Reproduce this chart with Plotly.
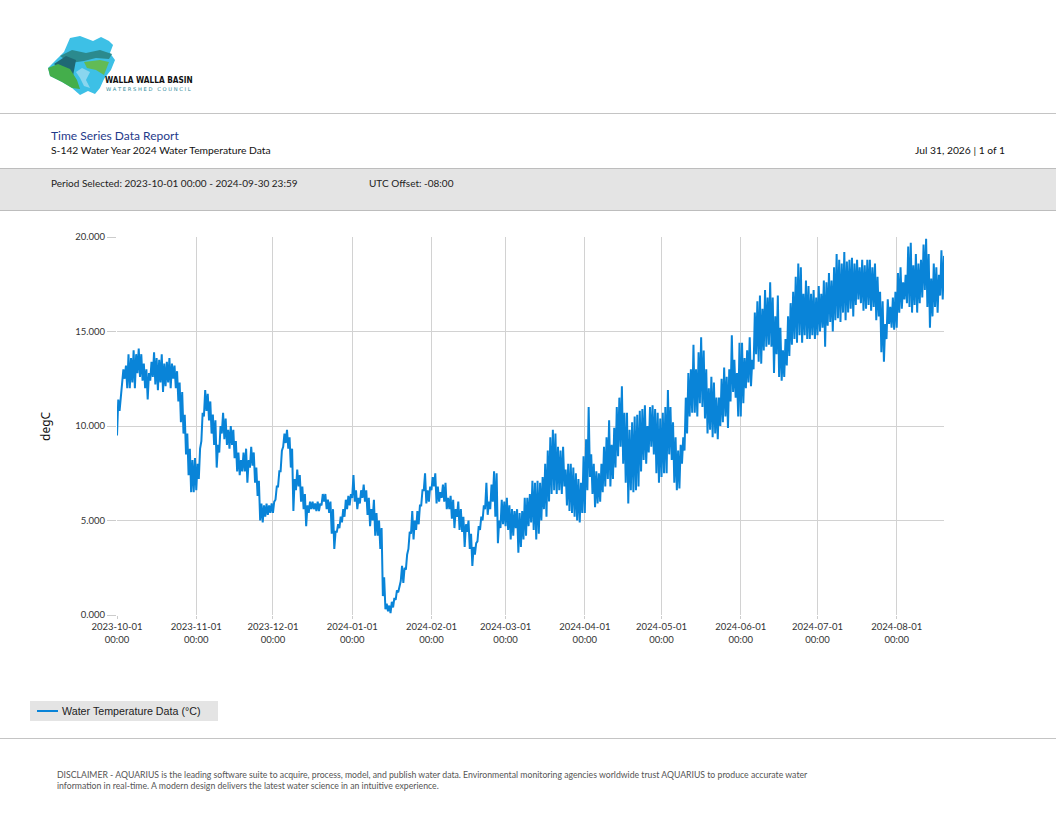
import pandas as pd
import plotly.graph_objects as go

# daily low / high water temperature (degC)
oct_low  = [9.5, 10.8, 12.2, 12.5, 12.0, 12.0, 12.3, 12.0, 12.8, 12.6, 12.4, 12.0, 11.4, 12.4, 12.6, 12.2, 11.9, 12.3, 11.8, 12.1, 12.3, 12.0, 12.5, 12.0, 11.3, 10.2, 9.6, 8.5, 7.4, 6.5, 6.5]
oct_high = [11.4, 11.6, 13.0, 13.2, 13.8, 13.6, 14.0, 13.8, 14.1, 13.8, 13.3, 13.0, 12.8, 13.4, 13.9, 13.6, 13.5, 13.8, 13.3, 13.4, 13.6, 13.3, 13.2, 12.9, 12.3, 11.8, 10.6, 9.6, 8.8, 8.2, 8.3]
nov_low  = [6.6, 7.2, 9.2, 10.5, 10.8, 10.3, 9.6, 9.0, 7.8, 8.6, 9.6, 9.3, 9.0, 8.8, 9.0, 8.3, 7.6, 7.4, 7.6, 7.6, 7.0, 7.8, 7.9, 7.0, 6.3, 5.0, 4.9, 5.2, 5.3, 5.4]
nov_high = [8.0, 8.8, 10.7, 11.9, 11.7, 11.3, 10.6, 10.3, 9.0, 10.0, 10.7, 10.4, 9.8, 10.0, 9.8, 9.2, 8.6, 8.2, 8.6, 8.8, 8.2, 8.9, 8.6, 7.8, 7.1, 5.9, 5.8, 5.9, 5.8, 5.9]
dec_low  = [5.4, 6.1, 6.8, 7.6, 8.9, 9.1, 8.8, 7.8, 5.5, 6.6, 6.8, 6.0, 5.6, 4.7, 5.4, 5.6, 5.6, 5.5, 5.5, 5.8, 6.0, 5.6, 5.4, 4.3, 3.5, 4.4, 4.6, 4.9, 5.2, 5.6, 5.8]
dec_high = [6.0, 6.8, 7.6, 8.7, 9.6, 9.8, 9.4, 8.8, 7.2, 7.7, 7.4, 6.8, 6.4, 5.8, 6.0, 6.0, 5.9, 6.0, 5.9, 6.4, 6.4, 6.1, 6.0, 5.6, 4.4, 4.8, 5.2, 5.6, 6.1, 6.3, 6.4]
jan_low  = [6.2, 6.0, 5.6, 5.9, 6.2, 6.0, 5.3, 4.7, 5.0, 4.2, 4.2, 3.5, 1.0, 0.3, 0.2, 0.1, 0.4, 0.8, 1.2, 1.8, 1.7, 2.4, 3.5, 4.3, 4.0, 4.5, 4.8, 5.8, 6.6, 5.9, 6.0]
jan_high = [7.4, 6.6, 6.2, 6.6, 6.9, 6.6, 6.2, 5.6, 6.1, 5.4, 5.0, 4.6, 2.0, 0.6, 0.5, 0.7, 0.9, 1.3, 1.6, 2.6, 2.5, 3.2, 4.4, 5.5, 5.0, 5.5, 5.8, 6.6, 7.5, 6.6, 6.8]
feb_low  = [6.6, 6.8, 5.9, 6.0, 6.2, 6.0, 5.6, 5.6, 5.1, 4.6, 5.2, 4.5, 4.4, 3.6, 4.4, 3.5, 2.6, 3.2, 3.9, 4.5, 5.0, 5.6, 5.3, 5.6, 6.0, 5.2, 3.8, 4.6, 4.8]
feb_high = [7.3, 7.5, 6.8, 6.5, 6.9, 7.0, 6.2, 6.3, 6.1, 5.6, 6.0, 5.6, 5.2, 4.8, 5.0, 4.3, 3.6, 3.8, 4.7, 5.2, 5.8, 7.0, 6.0, 6.9, 7.6, 7.5, 5.0, 6.1, 6.0]
mar_low  = [4.7, 4.5, 4.0, 4.2, 4.6, 3.3, 3.6, 4.0, 4.2, 4.7, 4.9, 4.5, 4.0, 4.3, 5.0, 5.6, 5.2, 6.0, 6.4, 6.6, 6.4, 6.6, 6.4, 6.8, 5.8, 5.5, 5.4, 5.2, 5.0, 4.9, 5.4]
mar_high = [6.2, 5.8, 5.6, 5.5, 5.6, 5.4, 5.5, 6.2, 6.2, 6.4, 7.1, 7.0, 7.1, 7.0, 7.3, 8.0, 8.7, 9.4, 9.8, 9.6, 8.9, 8.7, 8.9, 7.7, 8.0, 8.0, 7.8, 7.5, 7.2, 7.0, 8.4]
apr_low  = [5.4, 6.6, 7.3, 6.4, 5.7, 5.9, 6.0, 6.5, 6.8, 7.2, 6.8, 7.2, 7.8, 8.4, 8.9, 8.0, 7.0, 5.9, 6.6, 6.5, 6.6, 6.8, 7.6, 8.2, 8.0, 8.6, 8.9, 8.5, 7.5, 7.0]
apr_high = [9.3, 11.0, 8.5, 8.0, 7.6, 7.5, 8.0, 8.9, 9.4, 10.3, 9.0, 9.9, 11.0, 11.5, 12.1, 10.7, 10.7, 9.8, 10.2, 10.5, 10.6, 10.8, 10.9, 11.1, 10.0, 11.0, 11.1, 10.9, 10.7, 10.4]
may_low  = [7.3, 7.5, 7.5, 8.5, 8.2, 7.0, 6.6, 6.7, 8.0, 8.7, 9.6, 10.5, 10.7, 10.7, 10.5, 11.2, 11.0, 10.4, 9.6, 9.8, 9.4, 9.6, 9.3, 10.0, 10.2, 10.5, 9.9, 11.3, 11.8, 11.5, 10.5]
may_high = [10.7, 11.0, 11.9, 11.0, 10.2, 9.4, 8.7, 9.0, 9.4, 11.5, 12.8, 13.0, 14.3, 13.0, 13.9, 14.7, 14.0, 13.0, 12.0, 12.6, 12.3, 11.5, 11.5, 12.5, 13.1, 12.6, 13.0, 14.8, 13.5, 12.8, 14.4]
jun_low  = [10.5, 11.2, 12.0, 12.3, 12.1, 13.0, 13.8, 13.4, 13.3, 14.0, 14.2, 14.3, 14.2, 12.8, 13.8, 12.6, 12.4, 12.6, 13.2, 13.7, 14.3, 14.6, 14.4, 14.8, 14.4, 14.8, 14.6, 14.6, 14.8, 14.6]
jun_high = [14.4, 13.6, 14.0, 14.7, 13.5, 16.0, 16.6, 16.9, 16.2, 17.2, 16.8, 17.6, 16.8, 15.8, 16.9, 15.2, 14.0, 14.6, 15.8, 16.5, 17.1, 17.9, 18.6, 18.4, 17.0, 17.7, 17.4, 17.0, 17.2, 16.8]
jul_low  = [14.8, 15.0, 15.2, 14.2, 15.3, 15.5, 15.0, 15.6, 15.7, 15.5, 16.0, 15.6, 16.0, 16.2, 15.8, 16.4, 16.7, 16.5, 16.1, 16.2, 16.4, 16.1, 16.3, 15.6, 15.8, 13.9, 13.4, 14.6, 15.4, 15.2, 15.1]
jul_high = [17.4, 17.0, 17.7, 17.6, 18.1, 17.7, 18.4, 19.1, 18.8, 18.6, 19.2, 18.7, 18.8, 18.9, 18.6, 18.8, 18.4, 18.8, 18.5, 18.8, 18.8, 18.4, 18.6, 17.9, 17.1, 16.6, 15.4, 16.7, 16.3, 16.8, 17.1]
aug_low  = [15.2, 16.0, 16.2, 16.7, 16.5, 16.3, 16.0, 16.4, 16.0, 16.5, 16.8, 17.2, 16.3, 15.2, 15.8, 16.3, 16.0, 16.9, 16.7]
aug_high = [18.1, 18.4, 17.6, 18.0, 19.5, 19.7, 18.5, 19.1, 18.6, 18.8, 19.6, 19.9, 19.1, 17.8, 18.6, 18.4, 18.0, 19.3, 19.0]

start_date  = '2023-10-01'
y_ticks     = [0, 5, 10, 15, 20]
series_name = 'Water Temperature Data (°C)'
line_color  = '#0984d8'

lows  = oct_low + nov_low + dec_low + jan_low + feb_low + mar_low + apr_low + may_low + jun_low + jul_low + aug_low
highs = oct_high + nov_high + dec_high + jan_high + feb_high + mar_high + apr_high + may_high + jun_high + jul_high + aug_high

temps = []
for lo, hi in zip(lows, highs):
	temps.append(lo)
	temps.append(hi)
times = pd.date_range(start_date, periods = len(temps), freq = '12h')

# page geometry (pixels) -> paper coordinates
W, H = 1056, 816
L, R, T, B = 117, 944, 237, 615

def px(x):
	return (x - L) / (R - L)

def py(y):
	return (B - y) / (B - T)

def poly(pts):
	return 'M ' + ' L '.join('%.4f,%.4f' % (px(a), py(b)) for a, b in pts) + ' Z'

def pshape(**kw):
	return dict(xref = 'paper', yref = 'paper', **kw)


fig = go.Figure()
fig.add_trace(go.Scatter(x = times, y = temps, mode = 'lines', name = series_name,
	line = dict(color = line_color, width = 2), showlegend = False))

shapes = [
	pshape(type = 'line', x0 = px(-5), x1 = px(W + 5), y0 = py(113.5), y1 = py(113.5), line = dict(color = '#c4c4c4', width = 1)),
	pshape(type = 'rect', x0 = px(-5), x1 = px(W + 5), y0 = py(168.5), y1 = py(210.5), fillcolor = '#e4e4e4', line = dict(color = '#bdbdbd', width = 1)),
	pshape(type = 'line', x0 = px(-5), x1 = px(W + 5), y0 = py(738.5), y1 = py(738.5), line = dict(color = '#c4c4c4', width = 1)),
	# legend box
	pshape(type = 'rect', x0 = px(30), x1 = px(218), y0 = py(701), y1 = py(721), fillcolor = '#e4e4e4', line = dict(width = 0)),
	pshape(type = 'line', x0 = px(37), x1 = px(58), y0 = py(711), y1 = py(711), line = dict(color = line_color, width = 2)),
]

# rough logo
logo = [
	('#3dc0e6', [(70, 38), (80, 36), (93, 41), (101, 37), (109, 41), (113, 45), (110, 53), (115, 60), (111, 70), (104, 79), (100, 88), (95, 94), (88, 91), (80, 95), (72, 88), (62, 82), (50, 76), (48, 68), (56, 60), (64, 52)]),
	('#2b8a8e', [(60, 56), (72, 50), (86, 53), (100, 50), (112, 54), (109, 59), (96, 58), (84, 61), (70, 63)]),
	('#1f6874', [(54, 64), (66, 56), (76, 60), (73, 76), (64, 72)]),
	('#44ae4b', [(48, 68), (58, 64), (70, 69), (77, 80), (80, 89), (72, 88), (62, 82), (50, 76)]),
	('#62bb55', [(84, 62), (100, 60), (109, 62), (104, 75), (96, 70), (87, 68)]),
	('#8ad6ef', [(76, 72), (82, 68), (90, 72), (86, 80), (90, 88), (84, 86), (80, 78)]),
]
for col, pts in logo:
	shapes.append(pshape(type = 'path', path = poly(pts), fillcolor = col, line = dict(width = 0)))

def note(x, y, text, size, color = '#222222', family = 'Lato', xanchor = 'left', **kw):
	return dict(x = px(x), y = py(y), xref = 'paper', yref = 'paper', text = text, showarrow = False,
		xanchor = xanchor, yanchor = 'middle', font = dict(family = family, size = size, color = color), **kw)

annotations = [
	note(103, 80, '<b>WALLA WALLA BASIN</b>', 8.2, '#111111', 'DejaVu Sans Condensed'),
	note(104, 89, 'W A T E R S H E D   C O U N C I L', 5.2, '#2b8a9a', 'DejaVu Sans'),
	note(49, 135, 'Time Series Data Report', 12, '#1f3a8a'),
	note(49, 150, 'S-142 Water Year 2024 Water Temperature Data', 10.3, '#111111'),
	note(1007, 150, 'Jul 31, 2026 | 1 of 1', 10.3, '#111111', xanchor = 'right'),
	note(49, 183, 'Period Selected: 2023-10-01 00:00 - 2024-09-30 23:59', 10, '#222222'),
	note(367, 183, 'UTC Offset: -08:00', 10, '#222222'),
	note(45, 426, 'degC', 12, '#111111', 'Noto Sans', xanchor = 'center', textangle = -90),
	note(60, 711, series_name, 10.7, '#222222', 'Liberation Sans'),
	note(55, 774, 'DISCLAIMER - AQUARIUS is the leading software suite to acquire, process, model, and publish water data. '
		'Environmental monitoring agencies worldwide trust AQUARIUS to produce accurate water', 8.7, '#555555'),
	note(55, 785, 'information in real-time. A modern design delivers the latest water science in an intuitive experience.', 8.7, '#555555'),
]

fig.update_layout(
	width = W,
	height = H,
	margin = dict(l = L, r = W - R, t = T, b = H - B, autoexpand = False),
	paper_bgcolor = 'white',
	plot_bgcolor = 'white',
	font = dict(family = 'Lato', color = '#333333', size = 9),
	shapes = shapes,
	annotations = annotations,
	showlegend = False,
)
fig.update_xaxes(
	type = 'date',
	range = [times[0], times[-1]],
	tick0 = start_date,
	dtick = 'M1',
	tickformat = '%Y-%m-%d<br>%H:%M',
	ticks = 'outside',
	ticklen = 3,
	tickcolor = '#cccccc',
	showgrid = True,
	gridcolor = '#d2d2d2',
	showline = False,
	zeroline = False,
	tickfont = dict(family = 'Lato', size = 9.5, color = '#333333'),
)
fig.update_yaxes(
	range = [0, 20],
	tickvals = y_ticks,
	tickformat = '.3f',
	ticks = 'outside',
	ticklen = 9,
	tickcolor = '#cccccc',
	showgrid = True,
	gridcolor = '#d2d2d2',
	showline = False,
	zeroline = False,
	tickfont = dict(family = 'Lato', size = 9.5, color = '#333333'),
)

fig.write_html('out.html', config = dict(displayModeBar = False),
	post_script = "document.body.style.margin='0';document.body.style.overflow='hidden';")
